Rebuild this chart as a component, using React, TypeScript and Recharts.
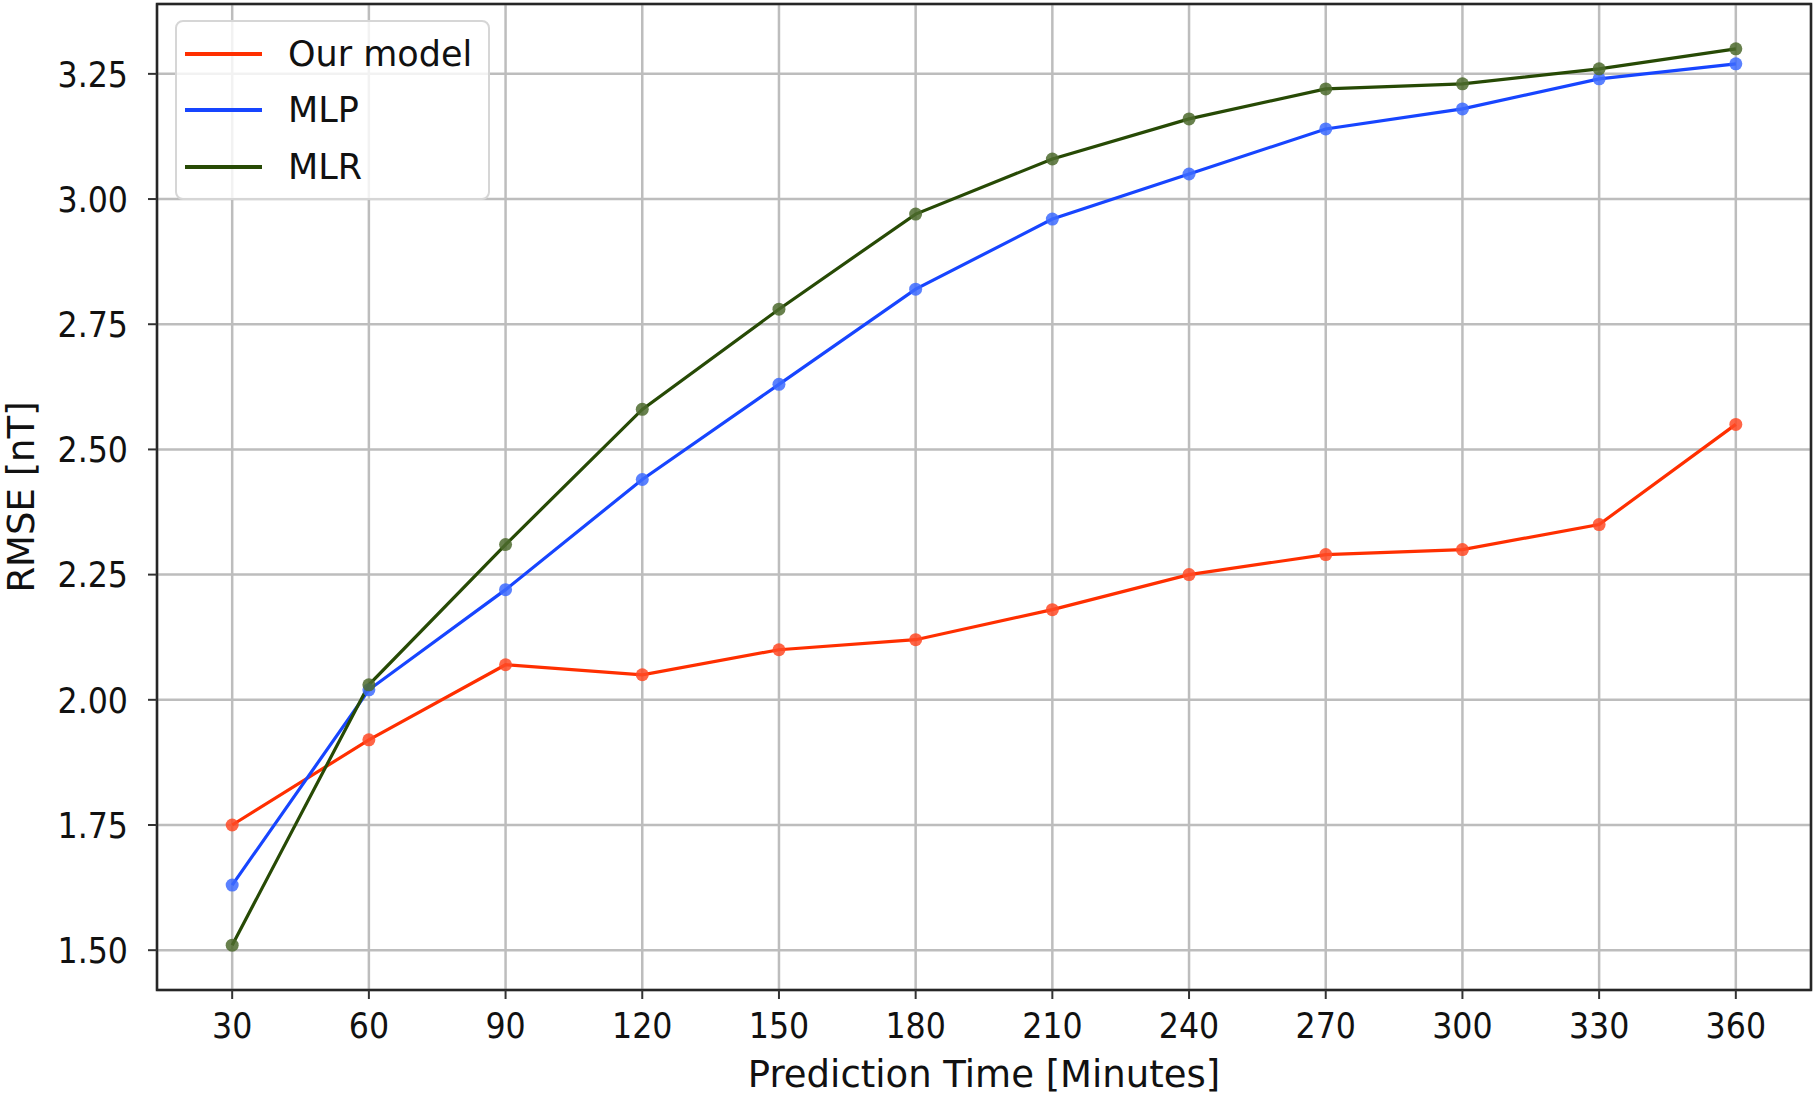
import React from "react";
import {
  LineChart,
  Line,
  XAxis,
  YAxis,
  CartesianGrid,
  Legend,
  Label,
  ReferenceArea,
} from "recharts";

const times = [30, 60, 90, 120, 150, 180, 210, 240, 270, 300, 330, 360];
const ourModel = [1.75, 1.92, 2.07, 2.05, 2.1, 2.12, 2.18, 2.25, 2.29, 2.3, 2.35, 2.55];
const mlp = [1.63, 2.02, 2.22, 2.44, 2.63, 2.82, 2.96, 3.05, 3.14, 3.18, 3.24, 3.27];
const mlr = [1.51, 2.03, 2.31, 2.58, 2.78, 2.97, 3.08, 3.16, 3.22, 3.23, 3.26, 3.3];
const yTicks = [1.5, 1.75, 2.0, 2.25, 2.5, 2.75, 3.0, 3.25];
const seriesNames = ["Our model", "MLP", "MLR"];

const data = times.map((t, i) => ({
  t,
  ours: ourModel[i],
  mlp: mlp[i],
  mlr: mlr[i],
}));

const FONT = "DejaVu Sans";
const xDomain = [13.5, 376.5];
const yDomain = [1.4205, 3.3895];

// tick glyphs in the source look a bit narrower than DejaVu, squeeze them
function XTick(props: any) {
  const { x, y, payload } = props;
  return (
    <g transform={`translate(${x},${y}) scale(0.88,1)`}>
      <text x={0} y={0} dy="0.71em" textAnchor="middle" fontFamily={FONT} fontSize={36} fill="#111">
        {payload.value}
      </text>
    </g>
  );
}

function YTick(props: any) {
  const { x, y, payload } = props;
  return (
    <g transform={`translate(${x},${y}) scale(0.88,1)`}>
      <text x={0} y={0} dy="0.355em" textAnchor="end" fontFamily={FONT} fontSize={36} fill="#111">
        {Number(payload.value).toFixed(2)}
      </text>
    </g>
  );
}

function LegendBox(props: any) {
  const payload = [...(props.payload || [])].sort(
    (a: any, b: any) => seriesNames.indexOf(a.value) - seriesNames.indexOf(b.value)
  );
  const rows = [32, 88, 145];
  return (
    <div
      style={{
        position: "relative",
        width: 315,
        height: 180,
        boxSizing: "border-box",
        border: "2px solid #d6d6d6",
        borderRadius: 8,
        background: "rgba(255,255,255,0.8)",
        fontFamily: FONT,
        fontSize: 35,
        color: "#111",
      }}
    >
      {payload.map((p: any, i: number) => (
        <React.Fragment key={p.value}>
          <div
            style={{
              position: "absolute",
              left: 8,
              top: rows[i] - 2,
              width: 77,
              height: 4,
              background: p.color,
            }}
          />
          <div
            style={{
              position: "absolute",
              left: 111,
              top: rows[i] - 22,
              lineHeight: "44px",
              whiteSpace: "nowrap",
            }}
          >
            {p.value}
          </div>
        </React.Fragment>
      ))}
    </div>
  );
}

export default function App() {
  return (
    <div style={{ position: "absolute", left: 0, top: 0, background: "#fff" }}>
      <LineChart
        width={1817}
        height={1101}
        data={data}
        margin={{ top: 4, right: 6, bottom: 0, left: 0 }}
      >
        <CartesianGrid stroke="#bdbdbd" strokeWidth={2.5} />
        <XAxis
          dataKey="t"
          type="number"
          domain={xDomain}
          ticks={times}
          height={111}
          axisLine={false}
          tickLine={{ stroke: "#333", strokeWidth: 2 }}
          tickSize={9}
          tickMargin={13}
          tick={<XTick />}
        >
          <Label
            value="Prediction Time [Minutes]"
            position="insideBottom"
            offset={14}
            style={{ fontFamily: FONT, fontSize: 37, fill: "#111" }}
          />
        </XAxis>
        <YAxis
          type="number"
          domain={yDomain}
          ticks={yTicks}
          width={157}
          axisLine={false}
          tickLine={{ stroke: "#333", strokeWidth: 2 }}
          tickSize={9}
          tickMargin={20}
          tick={<YTick />}
        >
          <Label
            value="RMSE [nT]"
            angle={-90}
            position="insideLeft"
            offset={21}
            style={{ fontFamily: FONT, fontSize: 37, fill: "#111", textAnchor: "middle" }}
          />
        </YAxis>
        <ReferenceArea
          x1={xDomain[0]}
          x2={xDomain[1]}
          y1={yDomain[0]}
          y2={yDomain[1]}
          fill="none"
          fillOpacity={0}
          stroke="#262626"
          strokeWidth={2.5}
        />
        <Legend
          layout="vertical"
          align="center"
          verticalAlign="middle"
          content={<LegendBox />}
          wrapperStyle={{ left: 175, top: 20, width: 315, height: 180 }}
        />
        <Line
          name={seriesNames[0]}
          dataKey="ours"
          stroke="#ff2f00"
          strokeWidth={3.2}
          dot={{ r: 6.5, fill: "#ff4a26", fillOpacity: 0.85, stroke: "none" }}
          isAnimationActive={false}
        />
        <Line
          name={seriesNames[1]}
          dataKey="mlp"
          stroke="#1745ff"
          strokeWidth={3.2}
          dot={{ r: 6.5, fill: "#3d6bff", fillOpacity: 0.85, stroke: "none" }}
          isAnimationActive={false}
        />
        <Line
          name={seriesNames[2]}
          dataKey="mlr"
          stroke="#274a05"
          strokeWidth={3.2}
          dot={{ r: 6.5, fill: "#4d6b2e", fillOpacity: 0.85, stroke: "none" }}
          isAnimationActive={false}
        />
      </LineChart>
    </div>
  );
}
